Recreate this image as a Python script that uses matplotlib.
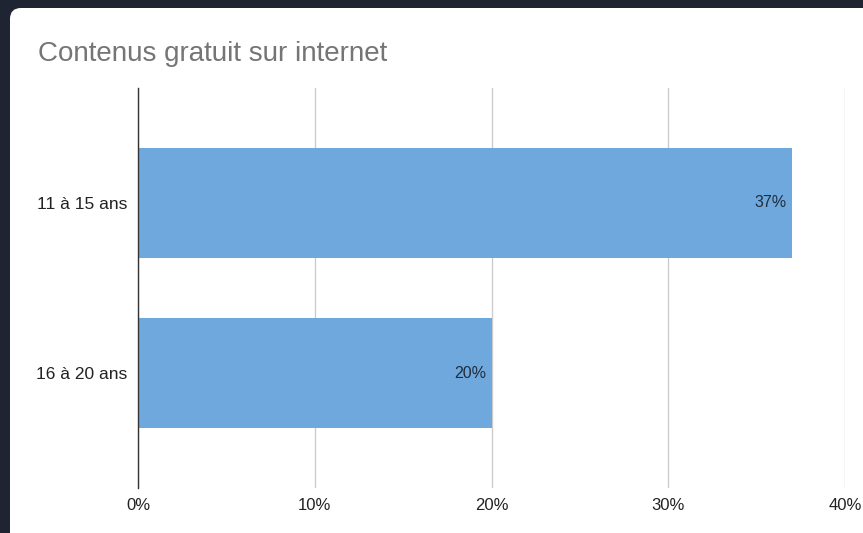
import matplotlib
matplotlib.use("Agg")
import matplotlib.pyplot as plt
from matplotlib.patches import FancyBboxPatch
from matplotlib.ticker import FuncFormatter

categories = ["11 à 15 ans", "16 à 20 ans"]
values = [37, 20]
x_ticks = [0, 10, 20, 30, 40]

W, H = 863, 533
fig = plt.figure(figsize=(W / 100, H / 100), dpi=100)
fig.patch.set_facecolor("#1e2431")

# white card with rounded corner, on a background axes
bg = fig.add_axes([0, 0, 1, 1], zorder=-10)
bg.set_axis_off()
bg.set_xlim(0, W)
bg.set_ylim(H, 0)
card = FancyBboxPatch((10, 8), W + 100, H + 100,
                      boxstyle="round,pad=0,rounding_size=11",
                      facecolor="white", edgecolor="none")
bg.add_patch(card)

fig.text(38 / W, 1 - 54 / H, "Contenus gratuit sur internet",
         fontsize=20, color="#757575", family="Liberation Sans",
         ha="left", va="center")

ax_left, ax_right = 138 / W, 845 / W
ax_top, ax_bottom = 1 - 88 / H, 1 - 488 / H
ax = fig.add_axes([ax_left, ax_bottom, ax_right - ax_left, ax_top - ax_bottom], zorder=1)
ax.set_facecolor("none")

ypos = list(range(len(categories)))
bars = ax.barh(ypos, values, height=0.647, color="#6fa8dc", zorder=3)
for b, v in zip(bars, values):
    ax.text(v - 0.3, b.get_y() + b.get_height() / 2, f"{v}%",
            ha="right", va="center", fontsize=11.5, color="#1f2d3d",
            family="Liberation Sans", zorder=4)

ax.set_xlim(0, 40)
ax.set_ylim(1.676, -0.676)
ax.set_xticks(x_ticks)
ax.xaxis.set_major_formatter(FuncFormatter(lambda v, p: f"{int(v)}%"))
ax.set_yticks(ypos)
ax.set_yticklabels(categories)
ax.grid(axis="x", color="#cccccc", linewidth=1, zorder=1)
for s in ["top", "right", "bottom"]:
    ax.spines[s].set_visible(False)
ax.spines["left"].set_color("#333333")
ax.spines["left"].set_linewidth(1)
ax.spines["left"].set_zorder(5)
ax.tick_params(axis="both", length=0, labelcolor="#222222")
ax.tick_params(axis="x", pad=7, labelsize=12)
ax.tick_params(axis="y", pad=8, labelsize=12.5)
for lbl in ax.get_xticklabels() + ax.get_yticklabels():
    lbl.set_family("Liberation Sans")

fig.savefig("out.png", dpi=100, facecolor=fig.get_facecolor())
